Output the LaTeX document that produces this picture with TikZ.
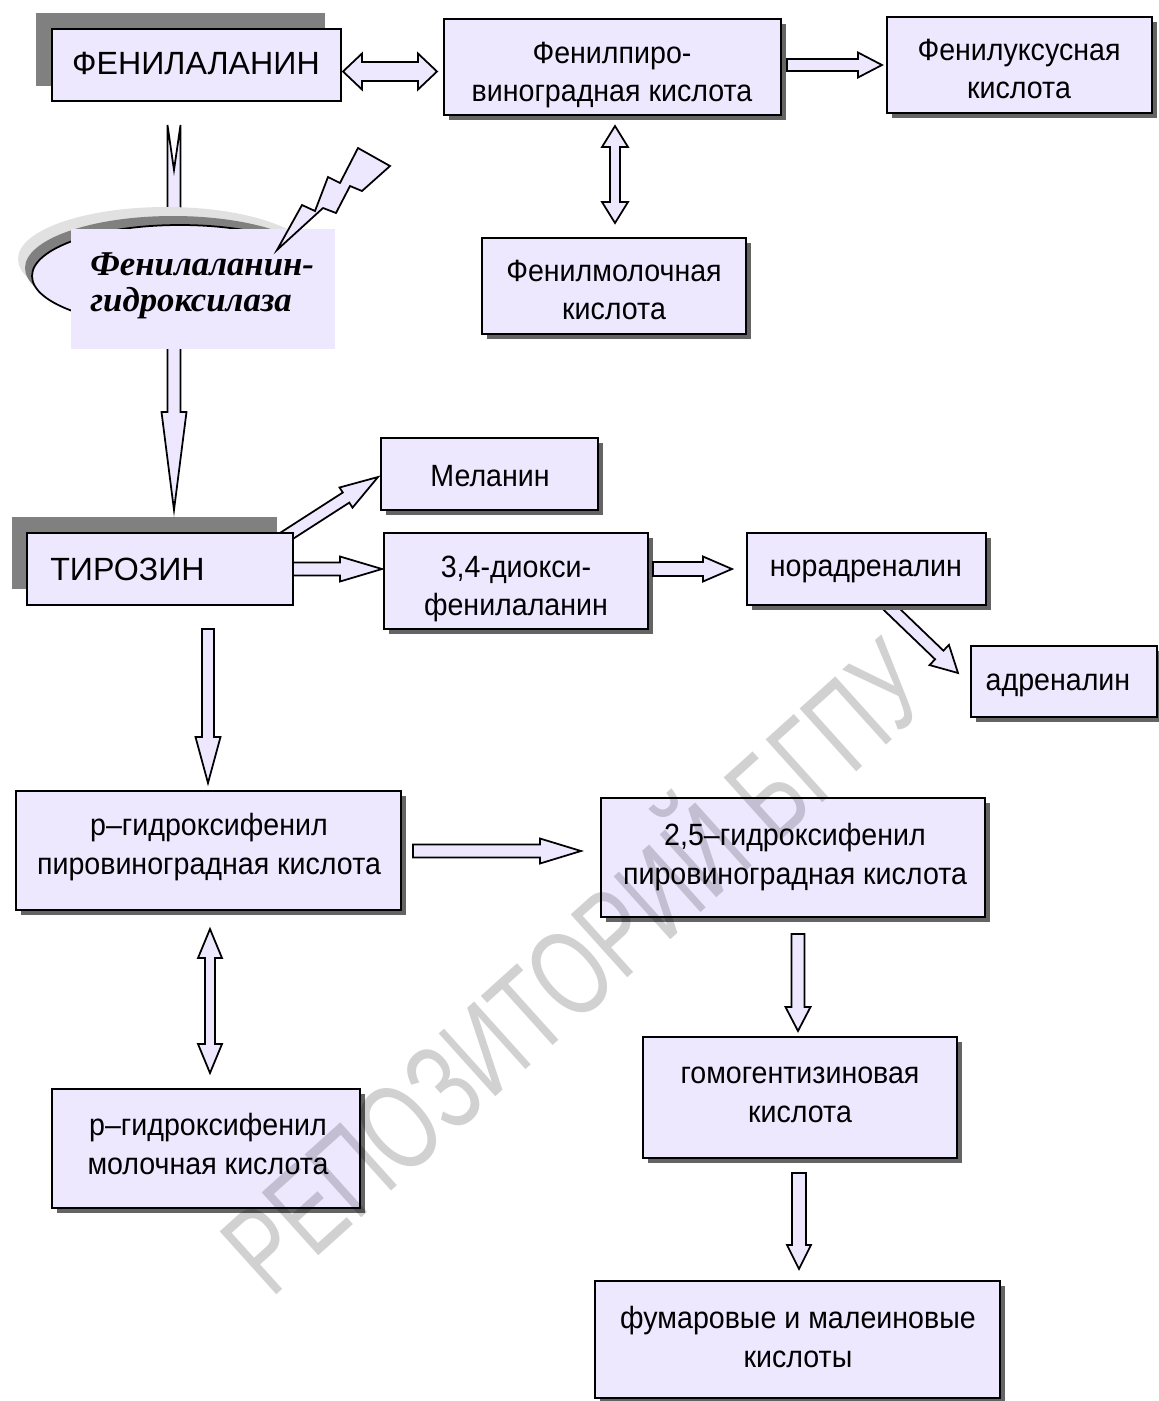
\documentclass[tikz,border=0pt]{standalone}
\usepackage{fontspec}
\setmainfont{Liberation Sans}
\newfontfamily\condfont{Liberation Sans}[FakeStretch=0.93]
\newfontfamily\tnrfont{Liberation Serif}
\usepackage{graphicx}
\definecolor{lav}{RGB}{238,232,255}
\definecolor{bigsh}{RGB}{128,128,128}
\definecolor{smsh}{RGB}{100,100,100}
\definecolor{ltsh}{RGB}{225,225,225}

% box with optional small drop shadow: name x1 y1 x2 y2 shadow
\newcommand\pbox[6]{%
  \ifnum#6=1 \fill[smsh] (#2+5,#3+5) rectangle (#4+5,#5+5);\fi
  \node[boxst, minimum width={(#4-#2)*0.02cm}, minimum height={(#5-#3)*0.02cm}] (#1) at ({(#2+#4)/2},{(#3+#5)/2}) {};
}
% single block arrow: x1 y1 x2 y2 shaft-half head-half head-length
\newcommand\barrow[7]{%
  \pgfmathsetmacro\ba{atan2(-(#4-#2),(#3-#1))}%
  \pgfmathsetmacro\bl{veclen((#3-#1),(#4-#2))}%
  \pgfmathsetmacro\bb{\bl-#7}%
  \draw[arrst,shift={(#1,#2)},rotate=\ba] (0,-#5) -- (\bb,-#5) -- (\bb,-#6) -- (\bl,0) -- (\bb,#6) -- (\bb,#5) -- (0,#5) -- cycle;
}
% double block arrow
\newcommand\darrow[7]{%
  \pgfmathsetmacro\ba{atan2(-(#4-#2),(#3-#1))}%
  \pgfmathsetmacro\bl{veclen((#3-#1),(#4-#2))}%
  \pgfmathsetmacro\bb{\bl-#7}%
  \draw[arrst,shift={(#1,#2)},rotate=\ba] (0,0) -- (#7,-#6) -- (#7,-#5) -- (\bb,-#5) -- (\bb,-#6) -- (\bl,0) -- (\bb,#6) -- (\bb,#5) -- (#7,#5) -- (#7,#6) -- cycle;
}
% notched-tail block arrow: ... notch depth
\newcommand\narrow[8]{%
  \pgfmathsetmacro\ba{atan2(-(#4-#2),(#3-#1))}%
  \pgfmathsetmacro\bl{veclen((#3-#1),(#4-#2))}%
  \pgfmathsetmacro\bb{\bl-#7}%
  \draw[arrst,shift={(#1,#2)},rotate=\ba] (0,-#5) -- (\bb,-#5) -- (\bb,-#6) -- (\bl,0) -- (\bb,#6) -- (\bb,#5) -- (0,#5) -- (#8,0) -- cycle;
}

\begin{document}
\begin{tikzpicture}[x=0.02cm,y=-0.02cm,
  boxst/.style={draw=black, fill=lav, line width=1.1pt, inner sep=0pt, outer sep=0pt},
  txt/.style={align=center, font=\condfont\fontsize{17.5}{22}\selectfont, inner sep=0pt},
  captxt/.style={font=\fontsize{18.3}{22}\selectfont, inner sep=0pt},
  arrst/.style={draw=black, fill=lav, line width=1pt, line join=miter},
]
\useasboundingbox[fill=white] (0,0) rectangle (1159,1401);

% ---------- phenylalanine -> tyrosine arrow (behind enzyme) ----------
\narrow{174}{125}{174}{510}{6.5}{12.5}{98}{45}

% ---------- enzyme ----------
\fill[ltsh] (166,259) ellipse [x radius=148, y radius=52];
\fill[bigsh] (173,268) ellipse [x radius=148, y radius=52];
\draw[fill=lav, line width=1pt] (180,276) ellipse [x radius=148, y radius=51];
\node[fill=lav, inner sep=0pt, minimum width={264*0.02cm}, minimum height={120*0.02cm}] (enzR) at (203,289) {};
\node[anchor=west, align=left, inner sep=0pt,
      font=\tnrfont\bfseries\itshape\fontsize{19.8}{20.7}\selectfont] (enzT) at (90,286) {Фенилаланин-\\гидроксилаза};
% lightning
\draw[fill=lav, line width=1pt, line join=miter] (277,250) -- (302,205) -- (315,211) -- (328,177) -- (340,183) -- (358,148) -- (390,166) -- (362,191) -- (350,186) -- (336,213) -- (323,208) -- cycle;

% ---------- top row ----------
\fill[bigsh] (36,13) rectangle (325,86);
\pbox{phe}{52}{29}{341}{101}{0}
\node[captxt] (pheT) at (196,63) {ФЕНИЛАЛАНИН};

\pbox{fpv}{444}{19}{781}{115}{1}
\node[txt] (fpvT) at (612,75) {Фенилпиро-\\виноградная кислота};

\pbox{fuk}{887}{17}{1152}{113}{1}
\node[txt] (fukT) at (1019,69) {Фенилуксусная\\кислота};

\pbox{fml}{482}{238}{746}{334}{1}
\node[txt] (fmlT) at (614,290) {Фенилмолочная\\кислота};

\darrow{343}{71.5}{437}{71.5}{9.5}{18}{19}
\barrow{787}{65}{882}{65}{6}{12.5}{24}
\darrow{615}{126}{615}{223}{5}{13}{21}

% ---------- tyrosine ----------
\barrow{277}{542}{378}{477}{6}{12}{38}
\barrow{288}{569}{382}{569}{6.5}{12.5}{42}
\fill[bigsh] (12,517) rectangle (277,589);
\pbox{tyr}{27}{533}{293}{605}{0}
\node[captxt, anchor=west] (tyrT) at (50,569) {ТИРОЗИН};

\pbox{mel}{381}{438}{598}{510}{1}
\node[txt] (melT) at (490,476) {Меланин};

\pbox{dopa}{384}{533}{648}{629}{1}
\node[txt] (dopaT) at (516,589) {3,4-диокси-\\фенилаланин};

\barrow{653}{569}{732}{569}{7}{12.5}{29}

\barrow{880}{598}{958}{673}{6}{14}{26}
\pbox{nor}{747}{533}{986}{605}{1}
\node[txt] (norT) at (866,571) {норадреналин};

\pbox{adr}{971}{646}{1157}{717}{1}
\node[txt] (adrT) at (1058,685) {адреналин};

\barrow{208}{629}{208}{783}{6}{12.5}{46}

% ---------- lower part ----------
\pbox{hpp}{16}{791}{401}{910}{1}
\node[txt] (hppT) at (209,847) {p–гидроксифенил\\пировиноградная кислота};

\barrow{413}{851}{581}{851}{6.5}{12.5}{41}
\darrow{210}{929}{210}{1073}{5}{12}{29}

\pbox{hpl}{52}{1089}{360}{1208}{1}
\node[txt] (hplT) at (208,1144) {p–гидроксифенил\\молочная кислота};

\pbox{dhp}{601}{798}{985}{917}{1}
\node[txt] (dhpT) at (795,857) {2,5–гидроксифенил\\пировиноградная кислота};

\barrow{798}{934}{798}{1031}{6.5}{12.5}{24}

\pbox{hga}{643}{1037}{957}{1158}{1}
\node[txt] (hgaT) at (800,1095) {гомогентизиновая\\кислота};

\barrow{799}{1173}{799}{1269}{7}{12}{24}

\pbox{fum}{595}{1281}{1000}{1398}{1}
\node[txt] (fumT) at (798,1337) {фумаровые и малеиновые\\кислоты};

% ---------- watermark ----------
\node[rotate=42, opacity=0.18, inner sep=0pt, font=\fontsize{70}{74}\selectfont] (wm) at (568,958) {\scalebox{0.7}[1]{РЕПОЗИТОРИЙ БГПУ}};
\end{tikzpicture}
\end{document}
